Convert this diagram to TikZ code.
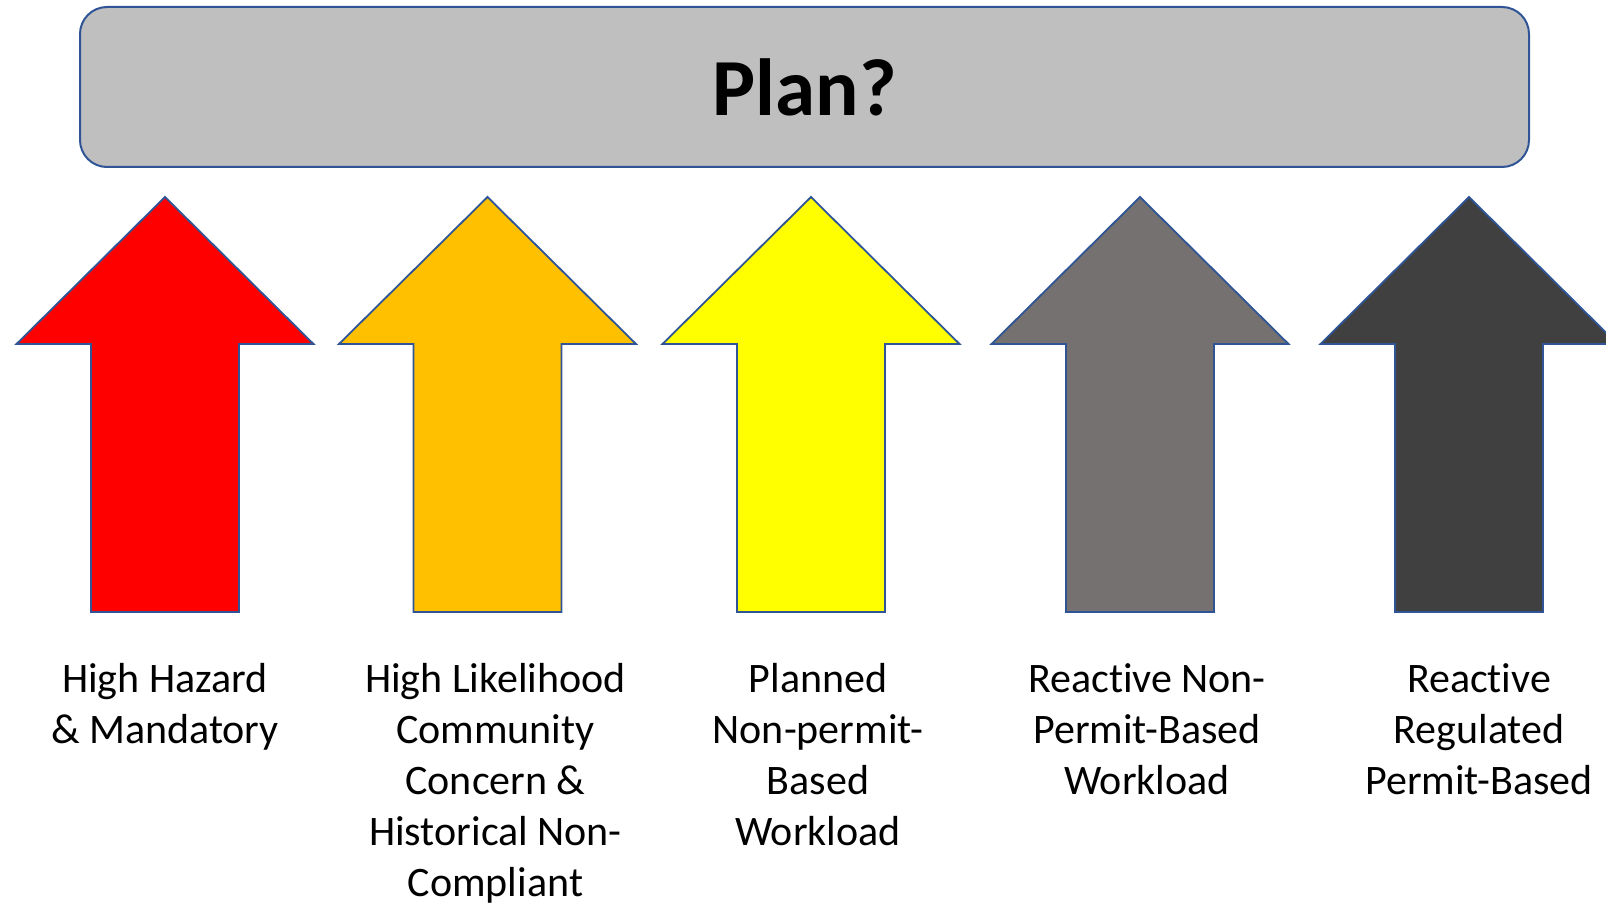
\documentclass[tikz,border=0pt]{standalone}
\usepackage{fontspec}
\setmainfont{Carlito}[Ligatures=NoCommon]
\usepackage{tikz}
\usetikzlibrary{positioning}

\definecolor{edgeblue}{HTML}{2F5597}
\definecolor{barfill}{HTML}{BFBFBF}
\definecolor{hazred}{HTML}{FF0000}
\definecolor{likeorange}{HTML}{FFC000}
\definecolor{planyellow}{HTML}{FFFF00}
\definecolor{reactgray}{HTML}{767171}
\definecolor{regdark}{HTML}{404040}

\begin{document}
\begin{tikzpicture}[x=1pt, y=-1pt,
  planbox/.style={draw=edgeblue, line width=2pt, fill=barfill,
    rounded corners=27pt, minimum width=1449pt, minimum height=160pt,
    inner sep=0pt, font=\fontsize{81}{96}\selectfont\bfseries},
  upshape/.style={draw=edgeblue, line width=1.8pt, line join=miter},
  catlabel/.style={anchor=north, inner sep=0pt, align=center,
    font=\fontsize{42}{51.2}\selectfont},
]
  \useasboundingbox (0,0) rectangle (1606,904);

  % Title bar
  \node[planbox] (plan) at (804.5,87) {Plan?};

  % Up arrows
  \foreach \cx/\col/\nm in {165/hazred/foot1, 487.5/likeorange/foot2,
      811/planyellow/foot3, 1140/reactgray/foot4, 1469/regdark/foot5} {
    \draw[upshape, fill=\col] (\cx,197) -- (\cx+148.5,344) -- (\cx+74,344)
      -- (\cx+74,612) -- (\cx-74,612) -- (\cx-74,344) -- (\cx-148.5,344)
      -- cycle;
    \coordinate (\nm) at (\cx,612);
  }

  % Category labels
  \node[catlabel, below=44pt of foot1] (hazard)
    {\strut High Hazard\\\& Mandatory};
  \node[catlabel, below=44pt of foot2, xshift=8pt] (likely)
    {\strut High Likelihood\\Community\\Concern \&\\Historical Non-\\Compliant};
  \node[catlabel, below=44pt of foot3, xshift=7pt] (planned)
    {\strut Planned\\Non-permit-\\Based\\Workload};
  \node[catlabel, below=44pt of foot4, xshift=7pt] (reactive)
    {\strut Reactive Non-\\Permit-Based\\Workload};
  \node[catlabel, below=44pt of foot5, xshift=10pt] (regulated)
    {\strut Reactive\\Regulated\\Permit-Based};

\end{tikzpicture}
\end{document}
